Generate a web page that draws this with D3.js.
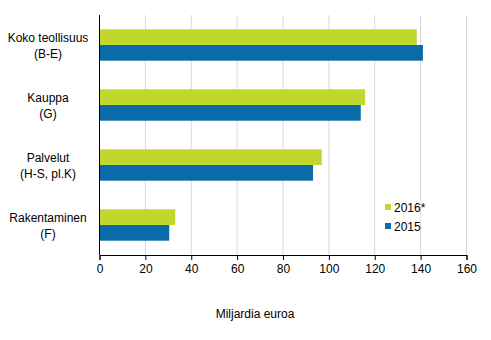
<!DOCTYPE html>
<html>
<head>
<meta charset="utf-8">
<script src="https://cdn.jsdelivr.net/npm/d3@7"></script>
<style>
  body { margin: 0; background: #fff; }
  svg { font-family: "Liberation Sans", Arial, sans-serif; }
</style>
</head>
<body>
<svg id="chart" width="491" height="340"></svg>
<script>
// Sector categories (two-line labels)
const categories = ["Koko teollisuus|(B-E)", "Kauppa|(G)", "Palvelut|(H-S, pl.K)", "Rakentaminen|(F)"];
const series = ["2016*", "2015"];
const values2016 = [138.3, 115.8, 96.9, 33.0];
const values2015 = [141.0, 113.9, 93.1, 30.4];
const xTicks = [0, 20, 40, 60, 80, 100, 120, 140, 160];
const colors = ["#c1d72e", "#0b6aa8"];
const xTitle = "Miljardia euroa";

const svg = d3.select("#chart");
const margin = { left: 99.5, right: 24.5, top: 15, bottom: 85 };
const W = 491, H = 340;

const x = d3.scaleLinear().domain([0, 160]).range([margin.left, W - margin.right]);
const y = d3.scaleBand().domain(categories).range([margin.top, H - margin.bottom]).paddingInner(0.477).paddingOuter(0.2385);
const y1 = d3.scaleBand().domain(series).range([0, y.bandwidth()]);

// Vertical gridlines
svg.append("g").selectAll("line").data(xTicks.filter(d => d > 0)).join("line")
  .attr("x1", d => x(d)).attr("x2", d => x(d))
  .attr("y1", margin.top).attr("y2", H - margin.bottom)
  .attr("stroke", "#d9d9d9").attr("stroke-width", 1);

// Bars
const data = categories.map((c, i) => ({ c, vals: [values2016[i], values2015[i]] }));
const groups = svg.append("g").selectAll("g").data(data).join("g")
  .attr("transform", d => `translate(0,${y(d.c)})`);
groups.selectAll("rect").data(d => d.vals.map((v, j) => ({ s: series[j], v, j }))).join("rect")
  .attr("x", x(0)).attr("y", d => y1(d.s))
  .attr("width", d => x(d.v) - x(0)).attr("height", y1.bandwidth())
  .attr("fill", d => colors[d.j]);

// X axis
const xAxis = svg.append("g").attr("transform", `translate(0,${H - margin.bottom})`)
  .call(d3.axisBottom(x).tickValues(xTicks).tickSize(5).tickPadding(4));
xAxis.select(".domain").attr("stroke", "#000");
xAxis.selectAll(".tick line").attr("stroke", "#000");
xAxis.selectAll("text").attr("font-size", 12).attr("fill", "#000")
  .attr("font-family", "'Liberation Sans', Arial, sans-serif");

// Y axis line
svg.append("line").attr("x1", x(0)).attr("x2", x(0))
  .attr("y1", margin.top).attr("y2", H - margin.bottom)
  .attr("stroke", "#000");

// Category labels
const labels = svg.append("g").selectAll("text").data(categories).join("text")
  .attr("text-anchor", "middle").attr("font-size", 12).attr("fill", "#000")
  .attr("transform", d => `translate(48,${y(d) + y.bandwidth() / 2})`);
labels.each(function (d) {
  const parts = d.split("|");
  const t = d3.select(this);
  t.append("tspan").attr("x", 0).attr("y", -3).text(parts[0]);
  t.append("tspan").attr("x", 0).attr("y", 13).text(parts[1]);
});

// Axis title
svg.append("text").attr("x", 255).attr("y", 318).attr("text-anchor", "middle")
  .attr("font-size", 12).attr("fill", "#000").text(xTitle);

// Legend
const legend = svg.append("g").attr("transform", "translate(385,201)");
series.forEach((s, i) => {
  const g = legend.append("g").attr("transform", `translate(0,${i * 19})`);
  g.append("rect").attr("width", 6).attr("height", 6).attr("y", 3).attr("fill", colors[i]);
  g.append("text").attr("x", 9).attr("y", 11).attr("font-size", 12).attr("fill", "#000").text(s);
});
</script>
</body>
</html>
